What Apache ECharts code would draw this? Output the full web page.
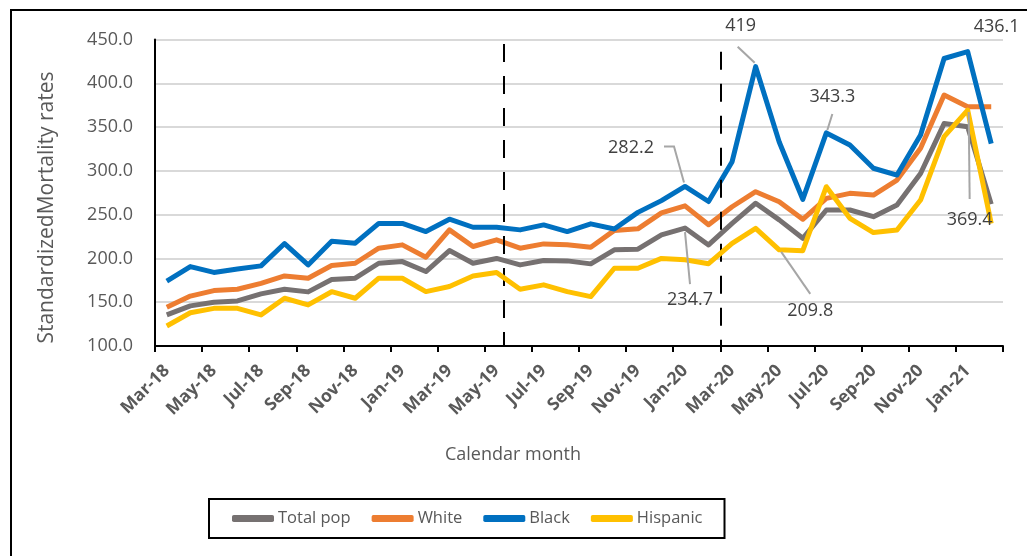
<!DOCTYPE html>
<html>
<head>
<meta charset="utf-8">
<script src="https://cdn.jsdelivr.net/npm/echarts@6/dist/echarts.min.js"></script>
<style>
html,body{margin:0;padding:0;background:#fff;}
#chart{width:1027px;height:556px;}
</style>
</head>
<body>
<div id="chart"></div>
<script>
const months = ['Mar-18','Apr-18','May-18','Jun-18','Jul-18','Aug-18','Sep-18','Oct-18','Nov-18','Dec-18','Jan-19','Feb-19','Mar-19','Apr-19','May-19','Jun-19','Jul-19','Aug-19','Sep-19','Oct-19','Nov-19','Dec-19','Jan-20','Feb-20','Mar-20','Apr-20','May-20','Jun-20','Jul-20','Aug-20','Sep-20','Oct-20','Nov-20','Dec-20','Jan-21','Feb-21'];

const totalPop = [135.5,145.8,150,151.5,159.5,164.8,161.8,176,177.4,194.5,196.4,185,209,194.5,200,192.6,197.6,197.2,193.8,209.8,210.5,227,234.7,215.4,240,263,244,223,255.3,255.3,247.7,261,297,354,350.4,262];
const white = [144.2,157,163.3,164.8,171.6,180,177.4,192,194.5,211.7,215.5,201.4,232.6,213.6,221.2,211.7,216.6,215.5,212.8,232,233.8,252,260,238.4,259,276.2,264.8,244.7,268.6,274.3,272.4,289.5,325.7,386.5,373.2,373.2];
const black = [174,190.7,184,188,191.5,217,192.6,219.5,217.4,240,240,230.7,244.8,235.6,235.5,232.6,238.3,230.7,239.5,233.6,252.6,266,282.2,265,310.5,419,333,267.5,343.3,329.5,303,295.2,341,428.3,436.1,331];
const hispanic = [122.9,138,143,143,135.5,154.5,146.9,162,154.5,177.4,177.4,162.1,167.9,180,184,164.8,169.8,162.1,156.4,188.8,188.8,200,198.5,194,217.3,234.4,209.8,208.9,281.9,245.8,229.5,232.5,266.7,339,369.4,240];

const seriesNames = ['Total pop','White','Black','Hispanic'];
const seriesData = [totalPop, white, black, hispanic];
const seriesColors = ['#767171','#ed7d31','#0070c0','#ffc000'];

// annotated points: series, month, label placement/offset, leader polyline offsets (px, relative to point)
const annotations = [
  {series:'Black', month:'Jan-20', pos:'top', dx:-54, dy:-25, leader:[[-21,-40],[-11,-40],[-1,-4]]},
  {series:'Total pop', month:'Jan-20', pos:'bottom', dx:5, dy:58, leader:[[0,4],[5,56]]},
  {series:'Black', month:'Apr-20', pos:'top', dx:-15, dy:-27, leader:[[-18,-20],[-1,-4]]},
  {series:'Black', month:'Jul-20', pos:'top', dx:6, dy:-22, leader:[[6,-19],[1,-3]]},
  {series:'Hispanic', month:'May-20', pos:'bottom', dx:31, dy:47, leader:[[2,2],[31,44]]},
  {series:'Black', month:'Jan-21', pos:'top', dx:29, dy:-11, leader:null},
  {series:'Hispanic', month:'Jan-21', pos:'bottom', dx:2, dy:96, leader:[[1,2],[2,89]]}
];

// dashed separator positions (in category units from left edge of axis)
const separators = [{x:14.79, top:445}, {x:24.0, top:436}];

const chart = echarts.init(document.getElementById('chart'));

const series = seriesNames.map((name, si) => {
  const anns = annotations.filter(a => a.series === name);
  return {
    name: name,
    type: 'line',
    data: seriesData[si].map((v, i) => {
      const a = anns.find(a => a.month === months[i]);
      if (a) {
        return {value: v, label: {show: true, position: a.pos}};
      }
      return v;
    }),
    symbol: 'circle',
    symbolSize: 0,
    showSymbol: true,
    showAllSymbol: true,
    lineStyle: {width: 5, color: seriesColors[si], join: 'round'},
    itemStyle: {color: seriesColors[si]},
    label: {
      show: false,
      fontFamily: 'Open Sans',
      fontSize: 18,
      color: '#404040',
      formatter: p => String(p.value)
    },
    labelLayout: (params) => {
      const a = anns.find(a => months.indexOf(a.month) === params.dataIndex);
      if (a) return {dx: a.dx, dy: a.dy};
      return {};
    },
    emphasis: {disabled: true},
    z: 2 + si
  };
});

series.push({
  name: 'sep',
  type: 'line',
  xAxisIndex: 1,
  data: [],
  silent: true,
  markLine: {
    symbol: 'none',
    silent: true,
    label: {show: false},
    lineStyle: {color: '#000', width: 2, type: [18, 14]},
    data: separators.map(s => [{coord: [s.x, s.top]}, {coord: [s.x, 100]}])
  }
});

const baseGraphics = [{
  id: 'frame',
  type: 'rect',
  shape: {x: 11, y: 10, width: 1040, height: 570},
  style: {fill: 'none', stroke: '#000', lineWidth: 2},
  silent: true
}, {
  id: 'ytitle',
  type: 'text',
  x: 47,
  y: 207.5,
  rotation: Math.PI / 2,
  style: {
    text: 'StandardizedMortality rates',
    font: '21px "Open Sans"',
    fill: '#595959',
    align: 'center',
    verticalAlign: 'middle'
  },
  silent: true
}];

chart.setOption({
  backgroundColor: '#fff',
  animation: false,
  textStyle: {fontFamily: 'Open Sans'},
  graphic: baseGraphics,
  title: {
    text: 'Calendar month',
    left: 508,
    top: 441,
    textAlign: 'center',
    textStyle: {fontFamily: 'Open Sans', fontSize: 18, fontWeight: 'normal', color: '#595959'}
  },
  legend: {
    data: seriesNames,
    left: 209,
    top: 499,
    width: 560,
    padding: [11, 22, 11, 23],
    itemGap: 21,
    itemWidth: 42,
    itemHeight: 7,
    icon: 'roundRect',
    borderColor: '#000',
    borderWidth: 2,
    textStyle: {fontFamily: 'Open Sans', fontSize: 16.5, color: '#595959', padding: [0,0,0,-1]}
  },
  grid: {left: 155, right: 24, top: 39.5, bottom: 210, containLabel: false},
  xAxis: [{
    type: 'category',
    data: months,
    boundaryGap: true,
    axisLine: {lineStyle: {color: '#000', width: 2}},
    axisTick: {show: true, interval: 1, length: 6, lineStyle: {color: '#000', width: 2}},
    axisLabel: {
      interval: 1,
      rotate: 45,
      margin: 22,
      fontFamily: 'Open Sans',
      fontSize: 17.5,
      fontWeight: 'bold',
      color: '#595959'
    },
    splitLine: {show: false}
  }, {
    type: 'value',
    min: 0,
    max: 36,
    show: false
  }],
  yAxis: {
    type: 'value',
    min: 100,
    max: 450,
    interval: 50,
    axisLine: {show: true, lineStyle: {color: '#000', width: 2}},
    axisTick: {show: false},
    axisLabel: {
      margin: 22,
      fontFamily: 'Open Sans',
      fontSize: 18,
      color: '#595959',
      formatter: v => v.toFixed(1)
    },
    splitLine: {lineStyle: {color: '#d9d9d9', width: 2}}
  },
  series: series
});

// leader lines, positioned from the data points via the chart's own scales
const leaders = [];
annotations.forEach((a, k) => {
  if (!a.leader) return;
  const si = seriesNames.indexOf(a.series);
  const idx = months.indexOf(a.month);
  const p = chart.convertToPixel({xAxisIndex: 0, yAxisIndex: 0}, [idx, seriesData[si][idx]]);
  leaders.push({
    id: 'leader' + k,
    type: 'polyline',
    shape: {points: a.leader.map(o => [p[0] + o[0], p[1] + o[1]])},
    style: {fill: 'none', stroke: '#a6a6a6', lineWidth: 2},
    z: 100,
    silent: true
  });
});
chart.setOption({graphic: baseGraphics.concat(leaders)});
</script>
</body>
</html>
